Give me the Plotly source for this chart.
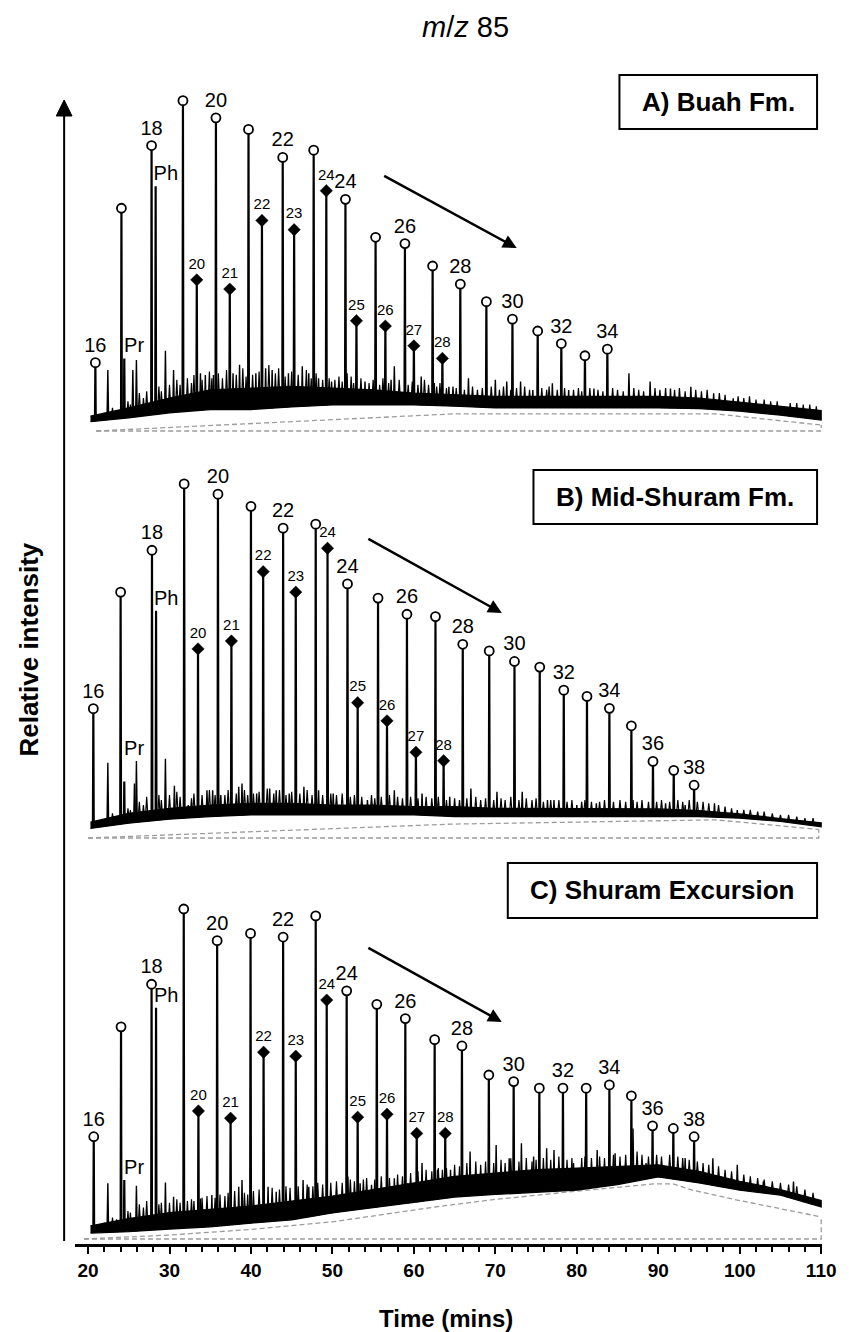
import numpy as np
import plotly.graph_objects as go

# ------------------------------------------------------------------ data
# band knots (retention time, minutes) shared by the three chromatograms
KNOT_T = [20.3, 25, 30, 35, 40, 45, 50, 55, 60, 65, 70, 75, 80, 85, 90, 95, 100, 105, 110]

# ---- A) Buah Fm.
A_ALK_N = list(range(16, 35))
A_ALK_T = [20.9, 24.1, 27.8, 31.65, 35.7, 39.7, 43.9, 47.7, 51.6, 55.3, 58.9, 62.3,
           65.7, 68.9, 72.1, 75.2, 78.1, 81.0, 83.75]
A_ALK_I = [20.7, 67.5, 86.5, 100.1, 94.9, 91.4, 82.9, 85.1, 70.2, 58.7, 56.8, 50.0,
           44.5, 39.2, 33.9, 30.3, 26.5, 22.8, 24.8]
A_BR_N = list(range(20, 29))
A_BR_T = [33.35, 37.4, 41.35, 45.3, 49.25, 52.95, 56.5, 60.0, 63.5]
A_BR_I = [45.8, 43.0, 63.8, 61.0, 72.8, 33.4, 31.8, 25.8, 22.0]
A_PR = [24.45, 22.0]
A_PH = [28.3, 74.2]
A_MIN_T = [22.43, 25.5, 25.94, 29.5, 30.5, 33.8, 34.4, 35.4, 37.8, 38.6, 40.6, 41.8, 42.6,
           44.6, 46.3, 47.1, 48.3, 49.9, 51.8, 54.0, 57.2, 57.6, 60.9, 62.5, 64.3, 66.7,
           70.0, 71.4, 73.1, 74.6, 77.0, 79.0, 82.1, 86.4, 89.0, 91.5, 94.0, 96.8, 99.2, 105.5]
A_MIN_I = [18.5, 18.5, 21.5, 24.3, 18.5, 17.5, 17.0, 17.0, 17.5, 20.1, 17.5, 19.0, 18.5,
           17.5, 19.6, 17.5, 16.0, 15.0, 17.5, 15.0, 15.5, 19.6, 16.5, 14.5, 13.4, 16.0,
           15.5, 15.0, 15.0, 12.4, 14.5, 12.4, 12.9, 17.5, 15.0, 12.9, 13.4, 11.4, 9.9, 6.4]
A_NOISE_T = [21.5, 22.0, 23.0, 23.5, 24.9, 25.2, 26.3, 26.8, 27.2, 28.7, 29.0, 30.0, 30.9, 31.3,
             32.2, 32.7, 33.0, 34.0, 34.9, 35.2, 36.0, 36.5, 37.0, 38.2, 39.0, 39.4, 40.2, 41.0,
             42.2, 43.0, 43.4, 44.2, 45.0, 45.8, 46.8, 47.4, 48.0, 48.8, 49.6, 50.3, 50.8, 51.2,
             52.3, 52.6, 53.5, 54.5, 55.0, 55.8, 56.2, 56.9, 58.2, 59.3, 59.8, 60.5, 61.3, 61.8,
             62.8, 63.2, 64.0, 64.8, 65.2, 66.2, 67.2, 67.8, 68.4, 69.5, 70.5, 71.0, 71.9, 72.6,
             73.6, 74.2, 75.7, 76.3, 76.6, 77.6, 78.5, 79.6, 80.2, 80.6, 81.6, 82.6, 83.2, 84.4,
             85.0, 85.7, 87.0, 87.6, 88.2, 89.6, 90.2, 90.9, 92.0, 92.6, 93.3, 94.6, 95.3, 96.0,
             97.5, 98.2, 99.8, 100.5, 101.2, 102.0, 103.0, 103.8, 104.6, 106.2, 107.0, 107.8,
             108.6, 109.4]
A_NOISE_I = [4.5, 5.5, 7.0, 6.0, 9.0, 8.0, 11.5, 10.0, 12.0, 13.5, 12.0, 14.0, 15.5, 14.0,
             16.0, 14.5, 17.0, 15.5, 18.0, 16.0, 17.5, 16.0, 18.5, 17.0, 19.0, 16.5, 17.0, 18.0,
             20.0, 17.5, 19.0, 16.5, 18.0, 17.0, 18.5, 16.0, 17.5, 15.5, 16.0, 15.5, 16.5, 15.0,
             16.5, 14.5, 16.0, 14.5, 15.5, 14.0, 16.0, 14.5, 15.5, 14.0, 15.0, 14.0, 15.5, 14.0,
             13.5, 14.5, 13.0, 13.5, 13.0, 12.5, 13.5, 12.5, 13.0, 13.5, 12.5, 13.5, 12.5, 13.0,
             13.5, 12.5, 13.0, 12.5, 13.5, 12.5, 13.0, 12.5, 13.0, 12.0, 13.0, 12.5, 12.0, 13.0,
             12.5, 12.0, 13.0, 12.5, 12.0, 13.0, 12.5, 13.0, 12.5, 13.0, 12.0, 12.5, 12.0, 12.5,
             11.5, 11.0, 10.5, 10.0, 10.5, 9.5, 9.5, 9.0, 9.0, 8.5, 8.5, 8.0, 8.0, 7.5]
A_LO = [2.8, 4.0, 5.5, 6.5, 6.5, 7.3, 7.9, 7.9, 7.9, 7.5, 7.0, 7.0, 7.0, 7.0, 7.0, 6.8, 6.0, 4.8, 3.3]
A_HI = [4.5, 7.0, 10.0, 12.5, 13.0, 13.5, 13.0, 12.5, 11.5, 11.0, 10.5, 10.5, 10.5, 10.5, 10.5, 10.0, 8.8, 7.5, 6.2]
A_HUMP_T = [21.0, 65.0, 97.0, 110.0]
A_HUMP_I = [0.0, 5.2, 5.2, 1.8]

# ---- B) Mid-Shuram Fm.
B_ALK_N = list(range(16, 39))
B_ALK_T = [20.65, 24.0, 27.85, 31.8, 35.95, 40.0, 43.95, 47.95, 51.85, 55.6, 59.15, 62.65,
           66.0, 69.25, 72.35, 75.45, 78.4, 81.25, 84.0, 86.7, 89.35, 91.9, 94.4]
B_ALK_I = [39.2, 74.5, 87.2, 107.3, 104.2, 100.5, 93.9, 95.1, 77.0, 72.7, 67.8, 67.1,
           58.7, 56.7, 53.5, 51.8, 44.8, 42.9, 39.3, 34.0, 23.2, 20.5, 16.0]
B_BR_N = list(range(20, 29))
B_BR_T = [33.5, 37.6, 41.5, 45.5, 49.4, 53.1, 56.7, 60.25, 63.65]
B_BR_I = [57.3, 59.7, 80.7, 74.5, 87.8, 41.0, 35.5, 26.0, 23.4]
B_PR = [24.45, 17.1]
B_PH = [28.35, 68.9]
B_MIN_T = [22.43, 25.7, 25.94, 29.5, 30.6, 32.3, 34.6, 35.3, 36.3, 38.5, 38.9, 40.7, 42.3,
           43.1, 44.7, 46.5, 48.3, 50.1, 51.9, 54.3, 57.6, 61.0, 64.4, 67.0, 70.2, 73.3,
           76.4, 77.2, 80.0, 82.4, 86.9, 90.9, 93.3, 96.9, 99.7]
B_MIN_I = [22.8, 16.5, 23.3, 24.0, 15.8, 10.0, 14.5, 14.5, 13.0, 15.5, 16.5, 13.5, 15.0,
           14.5, 13.5, 15.5, 14.5, 13.5, 12.0, 11.5, 14.5, 13.5, 12.5, 15.0, 14.0, 14.0,
           11.5, 11.5, 10.0, 10.5, 11.5, 10.5, 10.0, 10.5, 8.5]
B_NOISE_T = [21.5, 22.0, 23.0, 23.5, 24.9, 25.2, 26.3, 26.8, 27.2, 28.7, 29.0, 30.0, 30.9, 31.3,
             32.7, 33.0, 34.0, 34.9, 35.6, 36.0, 36.8, 37.2, 38.2, 39.2, 39.6, 40.3, 41.0, 42.0,
             42.8, 43.5, 44.3, 45.0, 46.0, 46.9, 47.5, 48.0, 48.8, 49.8, 50.5, 51.2, 52.2, 52.7,
             53.6, 54.8, 55.2, 56.0, 57.0, 58.0, 58.6, 59.6, 60.5, 61.5, 62.2, 63.0, 64.0, 65.0,
             65.6, 66.5, 67.6, 68.2, 68.8, 69.8, 70.7, 71.2, 71.9, 72.9, 73.8, 74.5, 75.0, 75.9,
             76.8, 77.8, 78.8, 79.4, 80.6, 81.0, 81.8, 82.8, 83.4, 84.5, 85.3, 86.0, 87.4, 88.0,
             88.8, 89.8, 90.4, 91.4, 92.4, 93.0, 93.8, 94.8, 95.5, 96.2, 97.4, 98.2, 99.0, 100.5,
             101.3, 102.2, 103.0, 104.0, 105.0, 106.0, 107.0, 108.0, 109.0]
B_NOISE_I = [4.5, 5.5, 7.5, 6.5, 9.0, 8.5, 11.0, 10.0, 12.5, 13.0, 11.5, 13.0, 14.0, 12.5,
             12.0, 13.5, 13.0, 14.5, 13.0, 14.0, 13.0, 14.5, 13.5, 14.5, 13.0, 13.5, 14.0, 15.0,
             13.5, 14.5, 13.0, 14.0, 13.5, 14.5, 13.0, 14.0, 13.0, 13.5, 13.0, 13.5, 12.5, 13.0,
             12.5, 13.0, 12.0, 12.5, 13.0, 12.5, 12.0, 12.5, 12.0, 12.5, 12.0, 12.5, 11.5, 12.0,
             11.5, 12.0, 12.5, 11.5, 12.0, 11.5, 12.0, 11.5, 12.5, 11.5, 12.0, 11.5, 12.0, 11.0,
             11.5, 11.5, 11.0, 11.5, 11.0, 11.5, 11.0, 11.0, 11.5, 11.0, 11.5, 11.0, 11.0, 11.5,
             11.0, 11.0, 11.5, 11.0, 11.5, 11.0, 11.5, 11.0, 11.0, 10.5, 10.0, 9.5, 9.0, 8.5,
             8.5, 8.0, 8.0, 7.5, 7.0, 7.0, 6.5, 6.0, 6.0]
B_LO = [2.9, 4.5, 5.7, 6.5, 7.0, 7.0, 7.0, 7.0, 7.0, 6.5, 6.5, 6.5, 6.5, 6.5, 6.5, 6.5, 6.0, 5.0, 3.4]
B_HI = [4.8, 7.5, 9.0, 10.0, 10.5, 10.5, 10.0, 10.0, 9.5, 9.5, 9.0, 9.0, 8.8, 8.8, 8.8, 8.3, 7.3, 5.9, 4.6]
B_HUMP_T = [20.0, 64.5, 97.0, 109.7]
B_HUMP_I = [0.0, 4.2, 5.5, 2.6]

# ---- C) Shuram Excursion
C_ALK_N = list(range(16, 39))
C_ALK_T = [20.7, 24.05, 27.8, 31.75, 35.85, 39.95, 43.95, 47.95, 51.75, 55.45, 58.95, 62.55,
           65.9, 69.2, 72.25, 75.4, 78.3, 81.15, 84.0, 86.7, 89.3, 91.85, 94.4]
C_ALK_I = [31.0, 64.3, 77.2, 100.0, 90.4, 92.6, 91.5, 97.9, 75.2, 71.1, 66.8, 60.4,
           58.5, 49.7, 47.7, 45.7, 45.7, 45.7, 46.7, 43.4, 34.3, 33.5, 31.0]
C_BR_N = list(range(20, 29))
C_BR_T = [33.55, 37.5, 41.55, 45.5, 49.3, 53.1, 56.7, 60.35, 63.85]
C_BR_I = [38.8, 36.6, 56.6, 55.4, 72.4, 36.9, 37.8, 32.0, 32.0]
C_PR = [24.45, 17.9]
C_PH = [28.35, 70.1]
C_MIN_T = [22.43, 25.94, 29.5, 30.5, 33.8, 35.2, 38.5, 38.9, 42.1, 43.1, 46.4, 47.1, 51.9,
           53.4, 54.8, 57.6, 59.2, 61.0, 62.9, 64.5, 66.9, 70.1, 71.7, 73.2, 74.7, 76.3,
           77.2, 79.6, 82.5, 84.7, 86.9, 88.5, 93.3, 96.7, 99.7, 102.9, 106.6]
C_MIN_I = [16.9, 16.1, 17.1, 12.8, 12.3, 13.3, 15.8, 17.9, 15.8, 14.3, 17.9, 15.8, 18.9,
           16.9, 16.4, 18.4, 16.9, 23.0, 21.0, 21.0, 26.5, 28.5, 24.5, 29.0, 25.0, 27.5,
           27.0, 23.0, 27.0, 26.0, 33.5, 23.0, 24.5, 24.5, 22.5, 17.4, 17.4]
C_NOISE_T = [21.5, 22.0, 23.0, 23.5, 24.9, 25.2, 26.3, 26.8, 27.2, 28.7, 29.0, 30.0, 30.9, 31.3,
             32.2, 32.7, 33.0, 34.0, 34.6, 35.6, 36.2, 36.8, 37.2, 38.0, 39.2, 39.6, 40.3, 41.0,
             42.6, 43.5, 44.3, 44.8, 45.8, 46.9, 47.6, 48.2, 48.8, 49.8, 50.5, 51.2, 52.2, 52.7,
             53.8, 54.2, 55.2, 56.0, 57.0, 58.0, 58.6, 59.6, 60.5, 61.5, 62.2, 63.0, 63.5, 64.0,
             65.0, 65.6, 66.5, 67.6, 68.2, 68.8, 69.8, 70.7, 71.2, 71.9, 72.9, 73.8, 74.5, 75.0,
             75.9, 76.8, 77.8, 78.8, 79.4, 80.6, 81.0, 81.8, 82.8, 83.4, 84.5, 85.3, 86.0, 87.4,
             88.0, 88.8, 89.8, 90.4, 91.4, 92.4, 93.0, 93.8, 94.8, 95.5, 96.2, 97.4, 98.2, 99.0,
             100.5, 101.3, 102.2, 103.0, 104.0, 105.0, 106.0, 107.0, 108.0, 109.0]
C_NOISE_I = [4.0, 5.0, 6.5, 6.0, 8.5, 8.0, 10.5, 9.5, 11.5, 10.5, 11.0, 11.0, 12.0, 11.0,
             11.5, 12.0, 11.5, 12.5, 13.0, 12.5, 13.5, 13.0, 14.0, 14.5, 14.0, 13.5, 14.5, 15.0,
             15.5, 15.0, 16.0, 15.5, 16.0, 16.5, 16.0, 17.0, 16.5, 17.0, 17.5, 17.0, 18.0, 17.5,
             18.0, 18.5, 18.0, 19.0, 18.5, 19.5, 19.0, 20.0, 20.5, 21.0, 20.5, 21.5, 21.0, 21.5,
             22.5, 22.0, 23.0, 23.5, 22.5, 23.5, 23.0, 24.0, 23.0, 24.5, 23.5, 24.5, 23.5, 24.0,
             24.5, 24.0, 25.0, 24.0, 24.5, 24.5, 25.0, 24.5, 25.0, 24.5, 25.5, 25.0, 25.5, 26.5,
             25.5, 25.0, 25.5, 25.0, 25.5, 25.0, 24.5, 24.0, 23.5, 23.0, 22.5, 22.0, 21.0, 20.5,
             19.5, 19.0, 18.5, 18.0, 17.5, 17.0, 16.5, 16.0, 15.0, 14.0]
C_LO = [1.8, 2.2, 3.0, 3.7, 4.8, 5.8, 7.9, 9.5, 11.0, 12.7, 13.5, 14.2, 14.8, 16.5, 18.8, 17.0, 14.8, 13.3, 9.7]
C_HI = [4.0, 6.2, 8.0, 9.0, 10.0, 11.5, 13.0, 15.0, 17.0, 19.0, 20.0, 21.0, 21.5, 22.0, 22.5, 20.5, 17.5, 15.0, 11.7]
C_HUMP_T = [19.5, 30.0, 40.0, 50.0, 62.6, 70.0, 80.0, 89.4, 91.8, 94.2, 99.7, 110.0]
C_HUMP_I = [0.0, 1.2, 2.9, 5.2, 9.7, 12.0, 14.5, 16.7, 16.7, 14.8, 11.8, 6.7]

PANEL_TITLES = ["A) Buah Fm.", "B) Mid-Shuram Fm.", "C) Shuram Excursion"]
X_TICKS = [20, 30, 40, 50, 60, 70, 80, 90, 100, 110]

# ------------------------------------------------------------------ layout helpers
W, H = 849, 1332
ML, MR, MT, MB = 75, 18, 60, 88
PW, PH = W - ML - MR, H - MT - MB
XR = [18.4, 110.1]
PPU = 3.3                      # pixels per intensity unit
FONT = "Liberation Sans, Arial, Helvetica, sans-serif"


def pxx(px):
    return (px - ML) / PW


def pxy(py):
    return (H - MB - py) / PH


panels = [
    dict(base=431, top=60, bot=440, alk=(A_ALK_N, A_ALK_T, A_ALK_I), br=(A_BR_N, A_BR_T, A_BR_I),
         pr=A_PR, ph=A_PH, mn=(A_MIN_T, A_MIN_I), nz=(A_NOISE_T, A_NOISE_I), lo=A_LO, hi=A_HI,
         hump=(A_HUMP_T, A_HUMP_I), box=(626, 75, 826, 129), arrow=((388, 175), (522, 248))),
    dict(base=838, top=440, bot=850, alk=(B_ALK_N, B_ALK_T, B_ALK_I), br=(B_BR_N, B_BR_T, B_BR_I),
         pr=B_PR, ph=B_PH, mn=(B_MIN_T, B_MIN_I), nz=(B_NOISE_T, B_NOISE_I), lo=B_LO, hi=B_HI,
         hump=(B_HUMP_T, B_HUMP_I), box=(539, 470, 826, 524), arrow=((372, 538), (507, 613))),
    dict(base=1239, top=850, bot=1244, alk=(C_ALK_N, C_ALK_T, C_ALK_I), br=(C_BR_N, C_BR_T, C_BR_I),
         pr=C_PR, ph=C_PH, mn=(C_MIN_T, C_MIN_I), nz=(C_NOISE_T, C_NOISE_I), lo=C_LO, hi=C_HI,
         hump=(C_HUMP_T, C_HUMP_I), box=(513, 863, 826, 918), arrow=((372, 947), (507, 1022))),
]

fig = go.Figure()
layout_axes = {}
shapes = []
annotations = []

for i, p in enumerate(panels):
    yname = "yaxis" if i == 0 else f"yaxis{i + 1}"
    yref = "y" if i == 0 else f"y{i + 1}"
    layout_axes[yname] = dict(domain=[pxy(p["bot"]), pxy(p["top"])],
                              range=[-(p["bot"] - p["base"]) / PPU, (p["base"] - p["top"]) / PPU],
                              visible=False, fixedrange=True)
    common = dict(xaxis="x", yaxis=yref, hoverinfo="skip", showlegend=False)

    # unresolved-complex-mixture hump and zero baseline (grey dashed)
    ht, hi_ = p["hump"]
    dash = dict(color="#9c9c9c", width=1.3, dash="5px,3px")
    fig.add_trace(go.Scatter(x=ht, y=hi_, mode="lines", line=dash, **common))
    fig.add_trace(go.Scatter(x=[ht[0], ht[-1], ht[-1]], y=[0, 0, hi_[-1]], mode="lines", line=dash, **common))

    # dense noise band of the chromatogram
    fig.add_trace(go.Scatter(x=KNOT_T + KNOT_T[::-1], y=p["hi"] + p["lo"][::-1], mode="lines",
                             fill="toself", fillcolor="black", line=dict(color="black", width=1.2),
                             **common))

    def base_at(t):
        return float(np.interp(t, KNOT_T, p["lo"]))

    # small noise peaks riding on the band
    nx, ny = [], []
    for t, v in zip(*p["nz"]):
        b = base_at(t)
        nx += [t - 0.18, t, t + 0.18, None]
        ny += [b, v, b, None]
    fig.add_trace(go.Scatter(x=nx, y=ny, mode="lines", line=dict(color="black", width=1.2), **common))

    # minor peaks
    sx, sy = [], []
    for t, v in zip(*p["mn"]):
        b = base_at(t)
        sx += [t - 0.1, t, t + 0.1, None]
        sy += [b, v, b, None]
    fig.add_trace(go.Scatter(x=sx, y=sy, mode="lines", line=dict(color="black", width=1.4), **common))

    # major peaks: n-alkanes, branched alkanes, Pr and Ph
    an, at, ai = p["alk"]
    bn, bt, bi = p["br"]
    mx, my = [], []
    for t, v in zip(list(at) + list(bt) + [p["pr"][0], p["ph"][0]],
                    list(ai) + list(bi) + [p["pr"][1], p["ph"][1]]):
        b = base_at(t)
        mx += [t - 0.05, t, t + 0.05, None]
        my += [b, v, b, None]
    fig.add_trace(go.Scatter(x=mx, y=my, mode="lines", line=dict(color="black", width=2.2), **common))

    # markers
    fig.add_trace(go.Scatter(x=at, y=ai, mode="markers",
                             marker=dict(symbol="circle", size=9, color="white",
                                         line=dict(color="black", width=1.8)), **common))
    fig.add_trace(go.Scatter(x=bt, y=bi, mode="markers",
                             marker=dict(symbol="diamond", size=9.5, color="black",
                                         line=dict(color="black", width=0.5)), **common))

    # labels of even n-alkanes
    ev = [(n, t, v) for n, t, v in zip(an, at, ai) if n % 2 == 0]
    fig.add_trace(go.Scatter(x=[e[1] for e in ev], y=[e[2] + 16 / PPU for e in ev],
                             text=[str(e[0]) for e in ev], mode="text", cliponaxis=False,
                             textfont=dict(family=FONT, size=20, color="black"), **common))
    # labels of branched alkanes
    fig.add_trace(go.Scatter(x=bt, y=[v + 15 / PPU for v in bi], text=[str(n) for n in bn],
                             mode="text", cliponaxis=False,
                             textfont=dict(family=FONT, size=15, color="black"), **common))
    # Pr / Ph labels (above the highest neighbouring peak)
    pr_t, pr_i = p["pr"]
    near = [v for t, v in zip(*p["mn"]) if pr_t <= t <= pr_t + 2] + [pr_i]
    ph_t, ph_i = p["ph"]
    fig.add_trace(go.Scatter(x=[pr_t + 1.2, ph_t + 1.25],
                             y=[max(near) + 11 / PPU, ph_i + 11 / PPU],
                             text=["Pr", "Ph"], mode="text", cliponaxis=False,
                             textfont=dict(family=FONT, size=20, color="black"), **common))

    # panel title box
    x0, y0, x1, y1 = p["box"]
    shapes.append(dict(type="rect", xref="paper", yref="paper", x0=pxx(x0), x1=pxx(x1),
                       y0=pxy(y1), y1=pxy(y0), line=dict(color="black", width=2),
                       fillcolor="white", layer="above"))
    annotations.append(dict(xref="paper", yref="paper", x=pxx((x0 + x1) / 2), y=pxy((y0 + y1) / 2),
                            text=f"<b>{PANEL_TITLES[i]}</b>", showarrow=False,
                            font=dict(family=FONT, size=26, color="black"),
                            xanchor="center", yanchor="middle"))
    # trend arrow
    (tx, ty), (hx, hy) = p["arrow"]
    annotations.append(dict(xref="paper", yref="paper", x=pxx(hx), y=pxy(hy),
                            axref="pixel", ayref="pixel", ax=tx - hx, ay=ty - hy,
                            text="", showarrow=True, arrowhead=2, arrowsize=1.1,
                            arrowwidth=2.5, arrowcolor="black"))

# vertical "relative intensity" arrow
shapes.append(dict(type="line", xref="paper", yref="paper", x0=pxx(64), x1=pxx(64),
                   y0=pxy(1241), y1=pxy(112), line=dict(color="black", width=2)))
shapes.append(dict(type="path", xref="paper", yref="paper",
                   path=f"M {pxx(56)},{pxy(116)} L {pxx(64)},{pxy(100)} L {pxx(72)},{pxy(116)} Z",
                   fillcolor="black", line=dict(color="black", width=1)))

annotations += [
    dict(xref="paper", yref="paper", x=pxx(470), y=pxy(27), showarrow=False,
         text="<i>m</i>/<i>z</i> 85", font=dict(family=FONT, size=29, color="black"),
         xanchor="center", yanchor="middle"),
    dict(xref="paper", yref="paper", x=pxx(28), y=pxy(650), showarrow=False, textangle=-90,
         text="<b>Relative intensity</b>", font=dict(family=FONT, size=26, color="black"),
         xanchor="center", yanchor="middle"),
    dict(xref="paper", yref="paper", x=pxx(450), y=pxy(1318), showarrow=False,
         text="<b>Time (mins)</b>", font=dict(family=FONT, size=24, color="black"),
         xanchor="center", yanchor="middle"),
]

fig.update_layout(
    width=W, height=H, margin=dict(l=ML, r=MR, t=MT, b=MB, pad=0),
    paper_bgcolor="white", plot_bgcolor="white", showlegend=False, hovermode=False,
    xaxis=dict(domain=[0, 1], range=XR, anchor="y3", showline=True, linecolor="black",
               linewidth=2.5, ticks="outside", ticklen=7, tickwidth=2, tickcolor="black",
               tickvals=X_TICKS, ticktext=[str(v) for v in X_TICKS],
               tickfont=dict(family=FONT, size=19, color="black", weight="bold"),
               showgrid=False, zeroline=False, fixedrange=True,
               minor=dict(dtick=2, tick0=0, ticks="outside", ticklen=5, tickwidth=1.5,
                          tickcolor="black", showgrid=False)),
    shapes=shapes, annotations=annotations,
    **layout_axes,
)

fig.write_html("out.html")
